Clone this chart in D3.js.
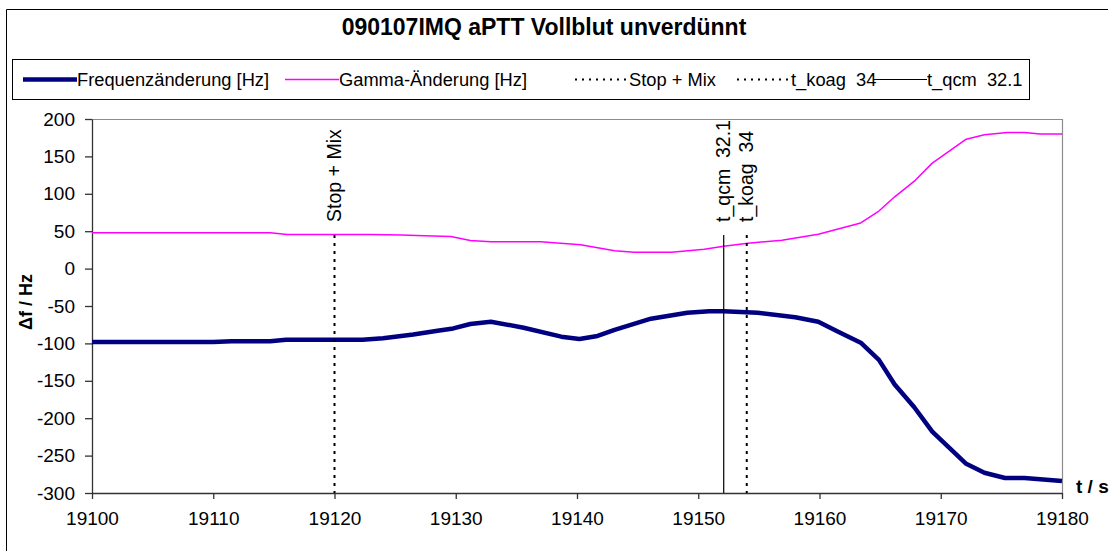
<!DOCTYPE html>
<html>
<head>
<meta charset="utf-8">
<script src="https://cdn.jsdelivr.net/npm/d3@7"></script>
<style>
  body { margin: 0; background: #fff; }
  svg { display: block; font-family: "Liberation Sans", Arial, sans-serif; }
  .tick text { font-size: 19px; fill: #000; }
</style>
</head>
<body>
<div id="chart"></div>
<script>
// Frequenzänderung (thick navy line)
const freqTime = [19100, 19110, 19111.5, 19114.7, 19116, 19122.3, 19124, 19126.5, 19128.5, 19129.8,
  19131.2, 19132.9, 19135.6, 19138.7, 19140.2, 19141.7, 19143.1, 19146.1, 19149.1, 19150.9,
  19152.1, 19154.9, 19158, 19159.9, 19161.5, 19163.4, 19164.9, 19166.2, 19167.8, 19169.3,
  19172.1, 19173.6, 19175.3, 19176.9, 19180];
const freqValue = [-98, -98, -97, -97, -95, -95, -93, -88, -83, -80,
  -74, -71, -79, -91, -94, -90, -82, -67, -59, -57,
  -57, -59, -65, -71, -84, -99, -122, -155, -185, -218,
  -261, -273, -280, -280, -284];

// Gamma-Änderung (thin magenta line)
const gammaTime = [19100, 19114.7, 19116.1, 19123, 19125.5, 19127.4, 19129.6, 19131.2, 19132.9, 19137,
  19140.3, 19143.1, 19144.7, 19147.8, 19150.5, 19152.1, 19154.1, 19156.9, 19159.9, 19163.4,
  19164.9, 19166.2, 19167.9, 19169.3, 19172.1, 19173.6, 19175.5, 19176.9, 19178.2, 19180];
const gammaValue = [48, 48, 45.5, 45.5, 45, 44, 43, 37.5, 36, 36,
  32, 24, 22, 22, 26, 30, 34, 38, 46, 61,
  77, 96, 118, 141, 173, 179, 182, 182, 180, 180];

// marker lines
const markerNames = ["Stop + Mix", "t_koag  34", "t_qcm  32.1"];
const markerTime = [19120, 19154, 19152.1];
const markerDotted = [true, true, false];
const markerTop = 45;
const markerBottom = -300;

// axes
const xTicks = [19100, 19110, 19120, 19130, 19140, 19150, 19160, 19170, 19180];
const yTicks = [200, 150, 100, 50, 0, -50, -100, -150, -200, -250, -300];

const W = 1114, H = 551;
const margin = {top: 119, left: 92, right: 52, bottom: 58};
const plotW = W - margin.left - margin.right;
const plotH = H - margin.top - margin.bottom;

const svg = d3.select("#chart").append("svg")
  .attr("width", W).attr("height", H);

// outer chart frame (only top and left visible in the picture)
svg.append("line").attr("x1", 6.5).attr("x2", 1108).attr("y1", 9.5).attr("y2", 9.5)
  .attr("stroke", "#000").attr("stroke-width", 1);
svg.append("line").attr("x1", 6.5).attr("x2", 6.5).attr("y1", 9.5).attr("y2", H)
  .attr("stroke", "#000").attr("stroke-width", 1);

// title
svg.append("text")
  .attr("x", 544).attr("y", 35)
  .attr("text-anchor", "middle")
  .attr("font-size", 23).attr("font-weight", "bold")
  .text("090107IMQ aPTT Vollblut unverdünnt");

// legend
const legend = svg.append("g");
legend.append("rect")
  .attr("x", 12.5).attr("y", 59.5).attr("width", 1017).attr("height", 40)
  .attr("fill", "#fff").attr("stroke", "#000");

const legendItems = [
  {label: "Frequenzänderung [Hz]", color: "#000080", width: 4.5, dash: null, x: 23},
  {label: "Gamma-Änderung [Hz]", color: "#ff00ff", width: 1.5, dash: null, x: 285},
  {label: "Stop + Mix", color: "#000", width: 2, dash: "2,5", x: 575},
  {label: "t_koag  34", color: "#000", width: 2, dash: "2,5", x: 737},
  {label: "t_qcm  32.1", color: "#000", width: 1, dash: null, x: 873}
];
legendItems.forEach(d => {
  const g = legend.append("g").attr("transform", `translate(${d.x},79.5)`);
  g.append("line").attr("x1", 0).attr("x2", 54)
    .attr("stroke", d.color).attr("stroke-width", d.width)
    .attr("stroke-dasharray", d.dash);
  g.append("text").attr("x", 54).attr("y", 6.5)
    .attr("font-size", 18.3).style("white-space", "pre")
    .text(d.label);
});

const plot = svg.append("g").attr("transform", `translate(${margin.left},${margin.top})`);

const x = d3.scaleLinear().domain([19100, 19180]).range([0, plotW]);
const y = d3.scaleLinear().domain([-300, 200]).range([plotH, 0]);

// plot area border (top, right)
plot.append("path")
  .attr("d", `M0,0.5H${plotW + 0.5}V${plotH}`)
  .attr("fill", "none").attr("stroke", "#8c8c8c").attr("stroke-width", 1.2);

// axes
plot.append("g")
  .attr("transform", `translate(0,${plotH})`)
  .call(d3.axisBottom(x).tickValues(xTicks).tickFormat(d3.format("d"))
    .tickSize(6).tickSizeOuter(0).tickPadding(13))
  .call(g => g.selectAll("path, line").attr("stroke", "#333").attr("stroke-width", 1.3));

plot.append("g")
  .call(d3.axisLeft(y).tickValues(yTicks).tickFormat(d3.format("d"))
    .tickSize(7).tickSizeOuter(0).tickPadding(10))
  .call(g => g.selectAll("path, line").attr("stroke", "#333").attr("stroke-width", 1.3))
  .call(g => g.selectAll("text").text(d => d < 0 ? "-" + Math.abs(d) : d));

// data lines
const line = d3.line().x(d => x(d[0])).y(d => y(d[1]));

plot.append("path")
  .datum(gammaTime.map((t, i) => [t, gammaValue[i]]))
  .attr("d", line)
  .attr("fill", "none").attr("stroke", "#ff00ff").attr("stroke-width", 1.5)
  .attr("stroke-linejoin", "round");

plot.append("path")
  .datum(freqTime.map((t, i) => [t, freqValue[i]]))
  .attr("d", line)
  .attr("fill", "none").attr("stroke", "#000080").attr("stroke-width", 4.5)
  .attr("stroke-linejoin", "round");

// marker lines + rotated labels
markerNames.forEach((name, i) => {
  const mx = x(markerTime[i]);
  plot.append("line")
    .attr("x1", mx).attr("x2", mx)
    .attr("y1", y(markerTop)).attr("y2", y(markerBottom))
    .attr("stroke", "#000")
    .attr("stroke-width", markerDotted[i] ? 2 : 1.2)
    .attr("stroke-dasharray", markerDotted[i] ? "3,5" : null);
  plot.append("text")
    .attr("transform", `translate(${mx + 6.5},${y(markerTop) - 13}) rotate(-90)`)
    .attr("font-size", 19.5).style("white-space", "pre")
    .text(name);
});

// axis titles
svg.append("text")
  .attr("transform", "translate(32,302) rotate(-90)")
  .attr("text-anchor", "middle")
  .attr("font-size", 18).attr("font-weight", "bold")
  .text("Δf / Hz");

svg.append("text")
  .attr("x", 1076).attr("y", 493)
  .attr("font-size", 19).attr("font-weight", "bold")
  .text("t / s");
</script>
</body>
</html>
